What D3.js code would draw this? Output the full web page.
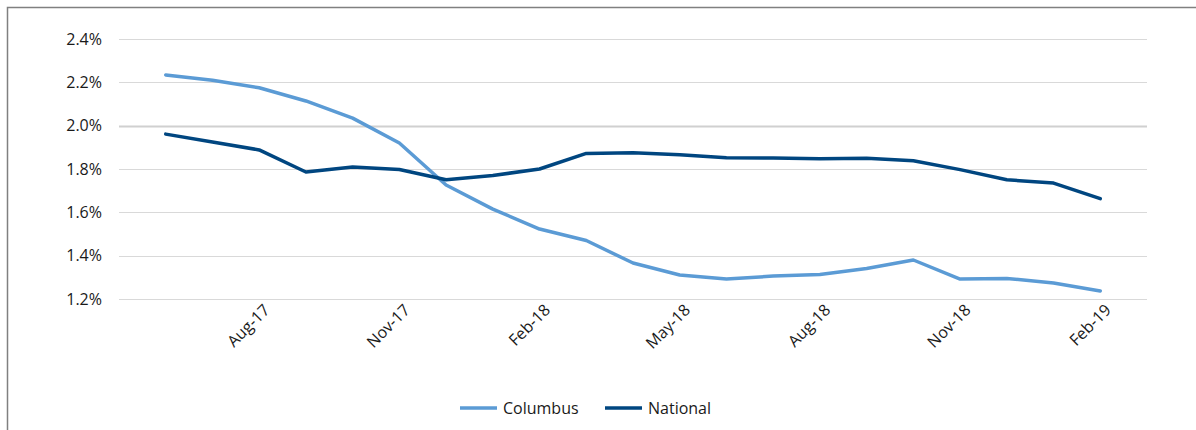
<!DOCTYPE html>
<html>
<head>
<meta charset="utf-8">
<script src="https://cdn.jsdelivr.net/npm/d3@7"></script>
<style>
body { margin: 0; background: #fff; }
text { font-family: "Open Sans", "Noto Sans", sans-serif; }
</style>
</head>
<body>
<script>
// months shown on the chart
var months = ["Jun-17","Jul-17","Aug-17","Sep-17","Oct-17","Nov-17","Dec-17",
              "Jan-18","Feb-18","Mar-18","Apr-18","May-18","Jun-18","Jul-18",
              "Aug-18","Sep-18","Oct-18","Nov-18","Dec-18","Jan-19","Feb-19"];

var columbus = [2.234, 2.21, 2.175, 2.114, 2.035, 1.92, 1.726, 1.615, 1.523, 1.47, 1.366,
                1.311, 1.292, 1.306, 1.313, 1.341, 1.38, 1.292, 1.295, 1.274, 1.237];

var national = [1.961, 1.925, 1.888, 1.786, 1.809, 1.798, 1.75, 1.77, 1.80, 1.872, 1.875,
                1.866, 1.852, 1.851, 1.847, 1.85, 1.838, 1.797, 1.75, 1.735, 1.663];

var xTickLabels = ["Aug-17","Nov-17","Feb-18","May-18","Aug-18","Nov-18","Feb-19"];
var yTicks = [1.2, 1.4, 1.6, 1.8, 2.0, 2.2, 2.4];

var width = 1196, height = 430;

var svg = d3.select("body").append("svg")
            .attr("width", width)
            .attr("height", height);

// outer frame (only top and left edges show in the picture)
svg.append("rect")
   .attr("x", 7.5)
   .attr("y", 7.5)
   .attr("width", width + 20)
   .attr("height", height + 20)
   .attr("fill", "none")
   .attr("stroke", "#808080")
   .attr("stroke-width", 1.5);

// x is a month axis with one empty month at each end
var x = d3.scaleLinear()
          .domain([-1, months.length])
          .range([119, 1147]);

var y = d3.scaleLinear()
          .domain([1.2, 2.4])
          .range([299, 39]);

// gridlines
svg.append("g")
   .selectAll("line")
   .data(yTicks)
   .join("line")
   .attr("x1", x.range()[0])
   .attr("x2", x.range()[1])
   .attr("y1", function(d) { return Math.round(y(d)) + 0.5; })
   .attr("y2", function(d) { return Math.round(y(d)) + 0.5; })
   .attr("stroke", function(d) { return d === 2.0 ? "#d0d0d0" : "#d9d9d9"; })
   .attr("stroke-width", function(d) { return d === 2.0 ? 2 : 1; });

// y axis labels
var yAxis = d3.axisLeft(y)
              .tickValues(yTicks)
              .tickSize(0)
              .tickPadding(0)
              .tickFormat(function(d) { return d3.format(".1f")(d) + "%"; });

svg.append("g")
   .attr("transform", "translate(102,0)")
   .call(yAxis)
   .call(function(g) { g.select(".domain").remove(); })
   .selectAll("text")
   .attr("font-size", 16)
   .attr("fill", "#1a1a1a")
   .attr("font-family", "'Open Sans', 'Noto Sans', sans-serif");

// x axis labels, rotated
var xAxis = d3.axisBottom(x)
              .tickValues(xTickLabels.map(function(m) { return months.indexOf(m); }))
              .tickSize(0)
              .tickFormat(function(i) { return months[i]; });

svg.append("g")
   .attr("transform", "translate(0,304)")
   .call(xAxis)
   .call(function(g) { g.select(".domain").remove(); })
   .selectAll("text")
   .attr("font-size", 16)
   .attr("fill", "#1a1a1a")
   .attr("font-family", "'Open Sans', 'Noto Sans', sans-serif")
   .attr("text-anchor", "end")
   .attr("dy", "0.35em")
   .attr("transform", "translate(5,1) rotate(-45)");

// lines
var line = d3.line()
             .x(function(d, i) { return x(i); })
             .y(function(d) { return y(d); });

var series = [
  {name: "Columbus", values: columbus, color: "#5b9bd5"},
  {name: "National", values: national, color: "#004680"}
];

svg.append("g")
   .selectAll("path")
   .data(series)
   .join("path")
   .attr("d", function(s) { return line(s.values); })
   .attr("fill", "none")
   .attr("stroke", function(s) { return s.color; })
   .attr("stroke-width", 3.5)
   .attr("stroke-linejoin", "round")
   .attr("stroke-linecap", "round");

// legend
var legendX = [460, 605];
var legend = svg.append("g")
                .selectAll("g")
                .data(series)
                .join("g")
                .attr("transform", function(s, i) { return "translate(" + legendX[i] + ",408)"; });

legend.append("line")
      .attr("x1", 0)
      .attr("x2", 37)
      .attr("stroke", function(s) { return s.color; })
      .attr("stroke-width", 3.5);

legend.append("text")
      .attr("x", 43)
      .attr("dy", "0.35em")
      .attr("font-size", 16)
      .attr("fill", "#1a1a1a")
      .text(function(s) { return s.name; });
</script>
</body>
</html>
